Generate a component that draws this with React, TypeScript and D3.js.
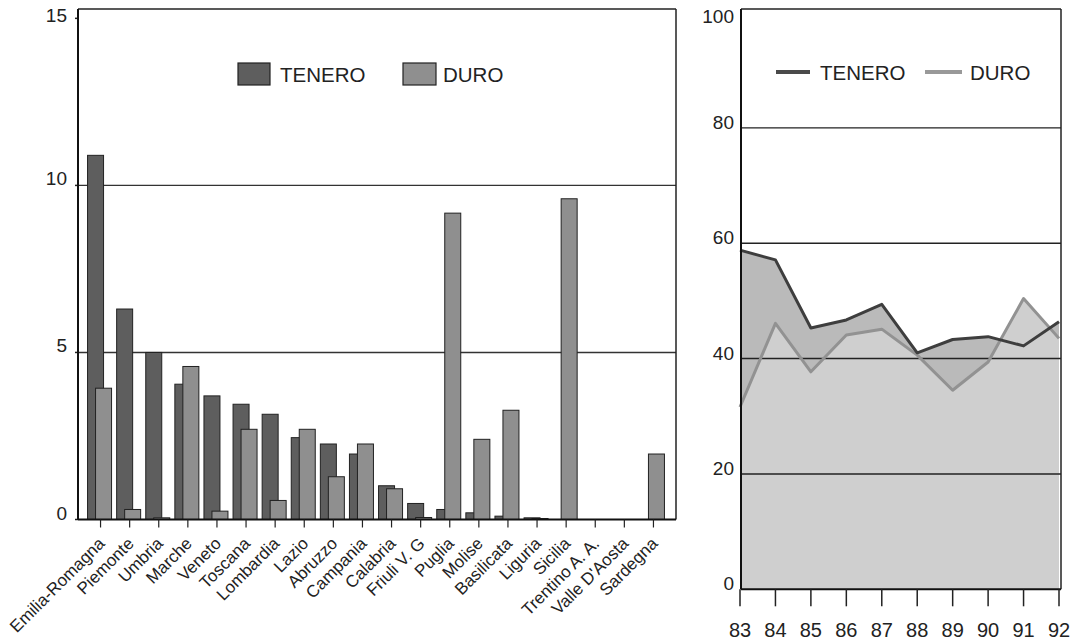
import React from "react";
import * as d3 from "d3";

const regions = [
  "Emilia-Romagna", "Piemonte", "Umbria", "Marche", "Veneto", "Toscana", "Lombardia",
  "Lazio", "Abruzzo", "Campania", "Calabria", "Friuli V. G", "Puglia", "Molise",
  "Basilicata", "Liguria", "Sicilia", "Trentino A. A.", "Valle D'Aosta", "Sardegna",
];
const teneroBars = [10.9, 6.3, 5.0, 4.05, 3.7, 3.45, 3.15, 2.45, 2.26, 1.96, 1.01, 0.48, 0.3, 0.2, 0.1, 0.05, 0, 0, 0, 0];
const duroBars = [3.93, 0.3, 0.05, 4.58, 0.25, 2.7, 0.57, 2.7, 1.28, 2.26, 0.92, 0.06, 9.17, 2.4, 3.27, 0.03, 9.6, 0, 0, 1.96];
const barTicks = [0, 5, 10, 15];

const years = [83, 84, 85, 86, 87, 88, 89, 90, 91, 92];
const teneroShare = [58.8, 57.1, 45.3, 46.7, 49.4, 41.0, 43.3, 43.8, 42.2, 46.4];
const duroShare = [31.6, 46.1, 37.7, 44.1, 45.1, 40.6, 34.5, 39.4, 50.4, 43.5];
const shareTicks = [0, 20, 40, 60, 80, 100];

const legendLabels = ["TENERO", "DURO"];

const C_TEN = "#5e5e5e";
const C_DUR = "#8f8f8f";
const FONT = "'Liberation Sans', Arial, Helvetica, sans-serif";

export default function App() {
  // left chart
  const L = { left: 78, right: 676, top: 9, bottom: 519.5 };
  const yL = d3.scaleLinear().domain([0, 15.28]).range([L.bottom, L.top]);
  const xL = d3.scaleBand<string>().domain(regions).range([86, 668]).paddingInner(0);
  const cx = (r: string) => (xL(r) as number) + xL.bandwidth() / 2;

  // right chart
  const R = { left: 741, right: 1061, top: 9, bottom: 589.3 };
  const yR = d3.scaleLinear().domain([0, 100.6]).range([R.bottom, R.top]);
  const xR = d3.scaleLinear().domain([83, 92]).range([740, 1059]);

  const areaGen = (vals: number[]) =>
    d3.area<number>()
      .x((_, i) => xR(years[i]))
      .y0(yR(0))
      .y1((v) => yR(v))(vals) as string;
  const lineGen = (vals: number[]) =>
    d3.line<number>()
      .x((_, i) => xR(years[i]))
      .y((v) => yR(v))(vals) as string;

  return (
    <svg width={1080} height={644} style={{ display: "block", position: "absolute", left: 0, top: 0 }} fontFamily={FONT}>
      <rect x={0} y={0} width={1080} height={644} fill="#ffffff" />

      {/* ===== LEFT BAR CHART ===== */}
      {barTicks.filter((t) => t > 0 && t < 15).map((t) => (
        <line key={"g" + t} x1={L.left} x2={L.right} y1={yL(t)} y2={yL(t)} stroke="#333" strokeWidth={1.4} />
      ))}
      {barTicks.map((t) => (
        <g key={"yt" + t}>
          <line x1={L.left - 3} x2={L.left} y1={yL(t)} y2={yL(t)} stroke="#222" strokeWidth={1.5} />
          <text x={67} y={Math.max(yL(t) - 5, 17)} textAnchor="end" dominantBaseline="middle" fontSize={19} fill="#222">{t}</text>
        </g>
      ))}
      {regions.map((r, i) => (
        <g key={"b" + r}>
          {teneroBars[i] > 0 && (
            <rect x={cx(r) - 13} y={yL(teneroBars[i])} width={16} height={yL(0) - yL(teneroBars[i])}
              fill={C_TEN} stroke="#222" strokeWidth={1} />
          )}
          {duroBars[i] > 0 && (
            <rect x={cx(r) - 5} y={yL(duroBars[i])} width={16} height={yL(0) - yL(duroBars[i])}
              fill={C_DUR} stroke="#222" strokeWidth={1} />
          )}
        </g>
      ))}
      {/* frame */}
      <line x1={L.left} x2={L.right} y1={L.top} y2={L.top} stroke="#222" strokeWidth={1.5} />
      <line x1={L.right} x2={L.right} y1={L.top} y2={L.bottom} stroke="#222" strokeWidth={1.5} />
      <line x1={L.left} x2={L.left} y1={L.top} y2={L.bottom} stroke="#111" strokeWidth={2} />
      <line x1={L.left} x2={L.right} y1={L.bottom} y2={L.bottom} stroke="#111" strokeWidth={2} />
      {regions.map((r) => (
        <g key={"xt" + r}>
          <line x1={cx(r)} x2={cx(r)} y1={L.bottom} y2={L.bottom + 8} stroke="#222" strokeWidth={1.2} />
          <text transform={`translate(${cx(r) + 2},${L.bottom + 22}) rotate(-45)`} textAnchor="end"
            dominantBaseline="middle" fontSize={17} fill="#222">{r}</text>
        </g>
      ))}
      {/* legend left */}
      <rect x={238} y={63} width={32} height={22} fill={C_TEN} stroke="#222" strokeWidth={1.2} />
      <text x={280} y={74} dominantBaseline="central" fontSize={20.5} fill="#222">{legendLabels[0]}</text>
      <rect x={403} y={63} width={33} height={22} fill={C_DUR} stroke="#222" strokeWidth={1.2} />
      <text x={443} y={74} dominantBaseline="central" fontSize={20.5} fill="#222">{legendLabels[1]}</text>

      {/* ===== RIGHT AREA/LINE CHART ===== */}
      <path d={areaGen(teneroShare)} fill="#bababa" />
      <path d={areaGen(duroShare)} fill="#cfcfcf" />
      {shareTicks.filter((t) => t > 0 && t < 100).map((t) => (
        <line key={"rg" + t} x1={R.left} x2={R.right} y1={yR(t)} y2={yR(t)} stroke="#222" strokeWidth={1.4} />
      ))}
      <path d={lineGen(duroShare)} fill="none" stroke="#929292" strokeWidth={3} strokeLinejoin="round" />
      <path d={lineGen(teneroShare)} fill="none" stroke="#3e3e3e" strokeWidth={3} strokeLinejoin="round" />
      {shareTicks.map((t) => (
        <text key={"ryt" + t} x={734} y={Math.max(yR(t) - 4, 18)} textAnchor="end" dominantBaseline="middle" fontSize={19} fill="#222">{t}</text>
      ))}
      <line x1={R.left} x2={R.right} y1={R.top} y2={R.top} stroke="#222" strokeWidth={1.5} />
      <line x1={R.right} x2={R.right} y1={R.top} y2={R.bottom} stroke="#222" strokeWidth={1.5} />
      <line x1={R.left} x2={R.left} y1={R.top} y2={R.bottom} stroke="#111" strokeWidth={2} />
      <line x1={R.left} x2={R.right} y1={R.bottom} y2={R.bottom} stroke="#111" strokeWidth={2} />
      {years.map((yv) => (
        <g key={"yr" + yv}>
          <line x1={xR(yv)} x2={xR(yv)} y1={R.bottom} y2={R.bottom + 17} stroke="#222" strokeWidth={1.5} />
          <text x={xR(yv)} y={632} textAnchor="middle" dominantBaseline="middle" fontSize={20} fill="#222">{yv}</text>
        </g>
      ))}
      {/* legend right */}
      <line x1={776} x2={810} y1={72} y2={72} stroke="#4a4a4a" strokeWidth={4} />
      <text x={820} y={72} dominantBaseline="central" fontSize={20.5} fill="#222">{legendLabels[0]}</text>
      <line x1={925} x2={962} y1={72} y2={72} stroke="#999" strokeWidth={4} />
      <text x={970} y={72} dominantBaseline="central" fontSize={20.5} fill="#222">{legendLabels[1]}</text>
    </svg>
  );
}
